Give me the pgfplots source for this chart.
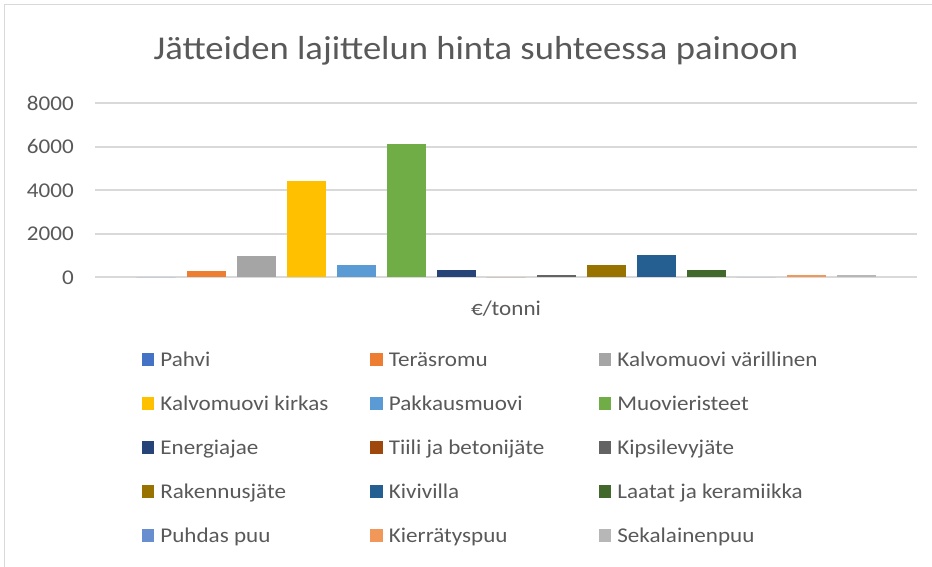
\documentclass[border=0pt]{standalone}
\usepackage{pgfplots}
\pgfplotsset{compat=1.18}
\usepackage{fontspec}
\setmainfont{Carlito}
\definecolor{txt}{HTML}{595959}
\definecolor{gridc}{HTML}{D9D9D9}
\definecolor{c1}{HTML}{4472C4}
\definecolor{c2}{HTML}{ED7D31}
\definecolor{c3}{HTML}{A5A5A5}
\definecolor{c4}{HTML}{FFC000}
\definecolor{c5}{HTML}{5B9BD5}
\definecolor{c6}{HTML}{70AD47}
\definecolor{c7}{HTML}{264478}
\definecolor{c8}{HTML}{9E480E}
\definecolor{c9}{HTML}{636363}
\definecolor{c10}{HTML}{997300}
\definecolor{c11}{HTML}{255E91}
\definecolor{c12}{HTML}{43682B}
\definecolor{c13}{HTML}{698ED0}
\definecolor{c14}{HTML}{F1975A}
\definecolor{c15}{HTML}{B7B7B7}
\pgfplotsset{sw/.style={fill=#1, draw=none,
  legend image code/.code={\fill[#1] (0pt,0.5pt) rectangle (12.5pt,13pt);}}}
\newcommand{\sx}[1]{\scalebox{1.1}[1]{#1}}
\newcommand{\legent}[1]{\addlegendentry{\makebox[210pt][l]{\sx{#1}}}}
\begin{document}
\begin{tikzpicture}[x=1pt,y=1pt]
\useasboundingbox (0,0) rectangle (932,566);
\draw[color=gridc, line width=1.2pt] (4.5,-10) -- (4.5,561.5) -- (950,561.5);
\node[anchor=base, text=txt, font=\fontsize{33.3}{40}\selectfont, inner sep=0pt] at (476,506) {\sx{Jätteiden lajittelun hinta suhteessa painoon}};
\begin{axis}[
  at={(95pt,288.7pt)}, anchor=south west,
  scale only axis, width=822pt, height=174pt,
  ybar=11pt, bar width=39pt,
  xmin=-1, xmax=1, ymin=0, ymax=8000,
  axis line style={draw=none},
  tick style={draw=none},
  major tick length=0pt,
  ytick={0,2000,4000,6000,8000},
  yticklabel={\sx{\pgfmathprintnumber{\tick}}},
  ymajorgrids, grid style={color=gridc, line width=1.7pt},
  scaled y ticks=false,
  /pgf/number format/1000 sep={},
  /pgf/number format/assume math mode=true,
  xtick={0}, xticklabels={\sx{€/tonni}},
  yticklabel style={anchor=east, inner sep=0pt, xshift=-21pt, text=txt, font=\fontsize{21}{25}\selectfont},
  xticklabel style={anchor=base, inner sep=0pt, yshift=-37.7pt, text=txt, font=\fontsize{21}{25}\selectfont},
  legend columns=3,
  legend style={at={(0.0568,-0.4178)}, anchor=north west, draw=none, fill=none, inner sep=0pt,
    row sep=23pt,
    nodes={inner sep=0pt, text height=16pt, text depth=5pt, text=txt, font=\fontsize{21}{25}\selectfont},
    cells={anchor=base west},
    /tikz/every odd column/.append style={column sep=6pt}},
]
\addplot[sw=c1] coordinates {(0,0)}; \legent{Pahvi}
\addplot[sw=c2] coordinates {(0,270)}; \legent{Teräsromu}
\addplot[sw=c3] coordinates {(0,960)}; \legent{Kalvomuovi värillinen}
\addplot[sw=c4] coordinates {(0,4410)}; \legent{Kalvomuovi kirkas}
\addplot[sw=c5] coordinates {(0,560)}; \legent{Pakkausmuovi}
\addplot[sw=c6] coordinates {(0,6130)}; \legent{Muovieristeet}
\addplot[sw=c7] coordinates {(0,330)}; \legent{Energiajae}
\addplot[sw=c8] coordinates {(0,0)}; \legent{Tiili ja betonijäte}
\addplot[sw=c9] coordinates {(0,110)}; \legent{Kipsilevyjäte}
\addplot[sw=c10] coordinates {(0,560)}; \legent{Rakennusjäte}
\addplot[sw=c11] coordinates {(0,1020)}; \legent{Kivivilla}
\addplot[sw=c12] coordinates {(0,330)}; \legent{Laatat ja keramiikka}
\addplot[sw=c13] coordinates {(0,0)}; \legent{Puhdas puu}
\addplot[sw=c14] coordinates {(0,100)}; \legent{Kierrätyspuu}
\addplot[sw=c15] coordinates {(0,100)}; \legent{Sekalainenpuu}
\end{axis}
\end{tikzpicture}
\end{document}
